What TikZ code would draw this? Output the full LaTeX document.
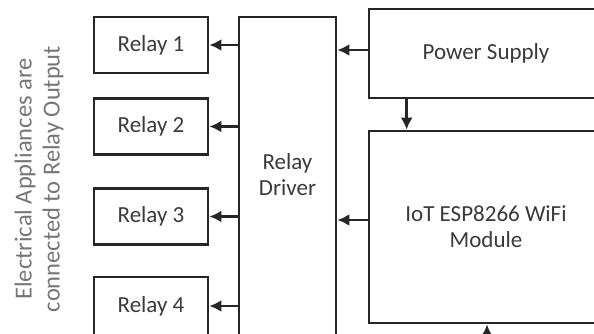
\documentclass[tikz,border=0pt]{standalone}
\usepackage{fontspec}
\setmainfont{Carlito}
\usetikzlibrary{arrows.meta,calc}
\definecolor{linec}{HTML}{262626}
\definecolor{textc}{HTML}{3A3A3A}
\definecolor{sidec}{HTML}{767676}
\tikzset{
  blk/.style={draw=linec, line width=2.7pt, fill=white, inner sep=0pt, font=\fontsize{23}{26}\selectfont, text=textc, align=center},
  arr/.style={draw=linec, line width=2.7pt, -{Latex[length=12pt,width=12pt]}},
  lbl/.style={inner sep=0pt, font=\fontsize{23}{26}\selectfont, text=textc, align=center}
}
\begin{document}
\begin{tikzpicture}[x=1pt,y=-1pt]
\useasboundingbox (0,0) rectangle (594,333);
% relays
\node[blk, minimum width=114pt, minimum height=56pt] (r1) at (151,45) {Relay 1};
\node[blk, minimum width=114pt, minimum height=56pt] (r2) at (151,126.5) {Relay 2};
\node[blk, minimum width=114pt, minimum height=56pt] (r3) at (151,216.5) {Relay 3};
\node[blk, minimum width=114pt, minimum height=58pt] (r4) at (151,306) {Relay 4};
% driver
\node[blk, minimum width=97pt, minimum height=333pt] (drv) at (287.5,183.5) {};
\node[lbl] (drvt) at (287.5,175) {Relay\\Driver};
% power supply and IoT
\node[blk, minimum width=234pt, minimum height=89pt] (ps) at (486,53.5) {Power Supply};
\node[blk, minimum width=234pt, minimum height=192pt] (iot) at (486,227) {IoT ESP8266 WiFi\\Module};
% side text
\node[inner sep=0pt, rotate=90, font=\fontsize{24.5}{28}\selectfont, text=sidec, align=center] (side) at (39,179) {Electrical Appliances are\\connected to Relay Output};
% connectors
\draw[arr] (drv.west |- r1.east) -- (r1.east);
\draw[arr] (drv.west |- r2.east) -- (r2.east);
\draw[arr] (drv.west |- r3.east) -- (r3.east);
\draw[arr] (drv.west |- r4.east) -- (r4.east);
\coordinate (psout) at ($(ps.west)+(0,-3.5)$);
\draw[arr] (psout) -- (psout -| drv.east);
\coordinate (iotout) at ($(iot.west)+(0,-7)$);
\draw[arr] (iotout) -- (iotout -| drv.east);
\coordinate (psdown) at ($(ps.south west)+(39,0)$);
\draw[arr] (psdown) -- (psdown |- iot.north);
\coordinate (bot) at (487,350);
\draw[arr] (bot) -- (bot |- iot.south);
\end{tikzpicture}
\end{document}
